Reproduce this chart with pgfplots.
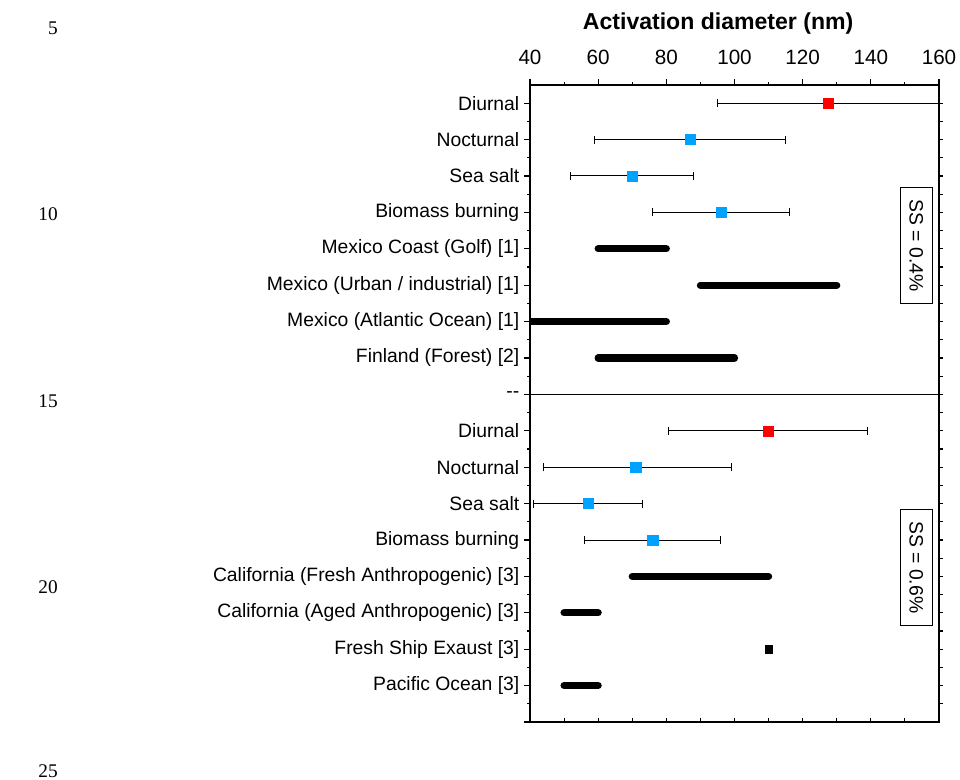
\documentclass[border=0pt]{standalone}
\usepackage{fontspec}
\setmainfont{Liberation Sans}
\newfontfamily\lnfont{Liberation Serif}
\usepackage{pgfplots}
\usepackage{pgfplotstable}
\pgfplotsset{compat=1.18}
\definecolor{myred}{RGB}{255,0,0}
\definecolor{myblue}{RGB}{0,162,255}

% y: position (1 = top), x: centre, em/ep: error minus / plus
\pgfplotstableread{
y x em ep
1 127.5 32.5 32.5
10 110 29.5 29
}\redpts
\pgfplotstableread{
y x em ep
2 87 28 28
3 70 18 18
4 96 20 20
11 71 27 28
12 57 16 16
13 76 20 20
}\bluepts

\begin{document}
\begin{tikzpicture}
\path[use as bounding box] (0,0) rectangle (720pt,585pt);
\foreach \n/\yy in {5/28,10/214,15/401,20/587,25/771} {
  \node[anchor=east, font=\lnfont\fontsize{14.5}{16}\selectfont, inner sep=0pt] at ({58*0.75pt},{(780-\yy)*0.75pt}) {\n};
}
\begin{axis}[
  at={(397.5pt,521.25pt)}, anchor=north west,
  scale only axis, width=306.75pt, height=477.75pt,
  xmin=40, xmax=160, ymin=0.5, ymax=18, y dir=reverse,
  axis line style={line width=0.8pt},
  every tick/.style={black, line width=0.8pt},
  tick align=outside,
  major tick length=4.5pt, minor tick length=2.2pt,
  xtick pos=right, xticklabel pos=right,
  xtick={40,60,...,160}, minor xtick={50,70,...,150},
  ytick pos=left,
  ytick={1,...,18},
  minor ytick={1.5,2.5,...,17.5},
  yticklabels={Diurnal,Nocturnal,Sea salt,Biomass burning,Mexico Coast (Golf) [1],Mexico (Urban / industrial) [1],Mexico (Atlantic Ocean) [1],Finland (Forest) [2],{-{}-},Diurnal,Nocturnal,Sea salt,Biomass burning,California (Fresh Anthropogenic) [3],California (Aged Anthropogenic) [3],Fresh Ship Exaust [3],Pacific Ocean [3],{}},
  yticklabel style={font=\fontsize{14.5}{17}\selectfont},
  xticklabel style={font=\fontsize{15.5}{18}\selectfont, yshift=7pt},
  /pgf/number format/assume math mode=true,
  xlabel={\bfseries Activation diameter (nm)},
  xlabel style={font=\fontsize{17.3}{20}\selectfont, at={(axis description cs:0.46,1)}, anchor=base, yshift=41.25pt, inner sep=0pt},
]
% separator
\addplot[black, line width=0.8pt] coordinates {(40,9) (160,9)};
% range bars
\addplot[black, line width=5.4pt, line cap=round] coordinates {(60,5) (80,5)};
\addplot[black, line width=5.4pt, line cap=round] coordinates {(90,6) (130,6)};
\addplot[black, line width=5.4pt, line cap=round] coordinates {(40,7) (80,7)};
\addplot[black, line width=5.4pt, line cap=round] coordinates {(60,8) (100,8)};
\addplot[black, line width=5.4pt, line cap=round] coordinates {(70,14) (110,14)};
\addplot[black, line width=5.4pt, line cap=round] coordinates {(50,15) (60,15)};
\addplot[black, only marks, mark=square*, mark size=2.8pt] coordinates {(110,16)};
\addplot[black, line width=5.4pt, line cap=round] coordinates {(50,17) (60,17)};
% points with error bars
\addplot[only marks, mark=square*, mark size=3.8pt, mark options={draw=myred, fill=myred, line width=0.3pt},
  error bars/.cd, x dir=both, x explicit, error mark=|,
  error bar style={black, line width=0.75pt},
  error mark options={black, line width=0.75pt, mark size=3pt}]
  table[x=x, y=y, x error minus=em, x error plus=ep] {\redpts};
\addplot[only marks, mark=square*, mark size=3.8pt, mark options={draw=myblue, fill=myblue, line width=0.3pt},
  error bars/.cd, x dir=both, x explicit, error mark=|,
  error bar style={black, line width=0.75pt},
  error mark options={black, line width=0.75pt, mark size=3pt}]
  table[x=x, y=y, x error minus=em, x error plus=ep] {\bluepts};
\node[draw, line width=0.6pt, rotate=-90, font=\fontsize{14.5}{17}\selectfont, inner xsep=9pt, inner ysep=7pt] at (axis cs:153.3,4.91) {SS = 0.4\%};
\node[draw, line width=0.6pt, rotate=-90, font=\fontsize{14.5}{17}\selectfont, inner xsep=9pt, inner ysep=7pt] at (axis cs:153.3,13.75) {SS = 0.6\%};
\end{axis}
\begin{axis}[
  at={(397.5pt,521.25pt)}, anchor=north west,
  scale only axis, width=306.75pt, height=477.75pt,
  xmin=40, xmax=160, ymin=0.5, ymax=18, y dir=reverse,
  axis line style={line width=0.8pt},
  every tick/.style={black, line width=0.8pt},
  xtick align=inside, ytick align=outside,
  major tick length=3pt,
  xtick pos=left, xtick={40,50,...,160}, xticklabels={},
  ytick pos=right, ytick={1,1.5,...,17.5}, yticklabels={},
]
\addplot[draw=none] coordinates {(40,1)};
\end{axis}
\end{tikzpicture}
\end{document}
